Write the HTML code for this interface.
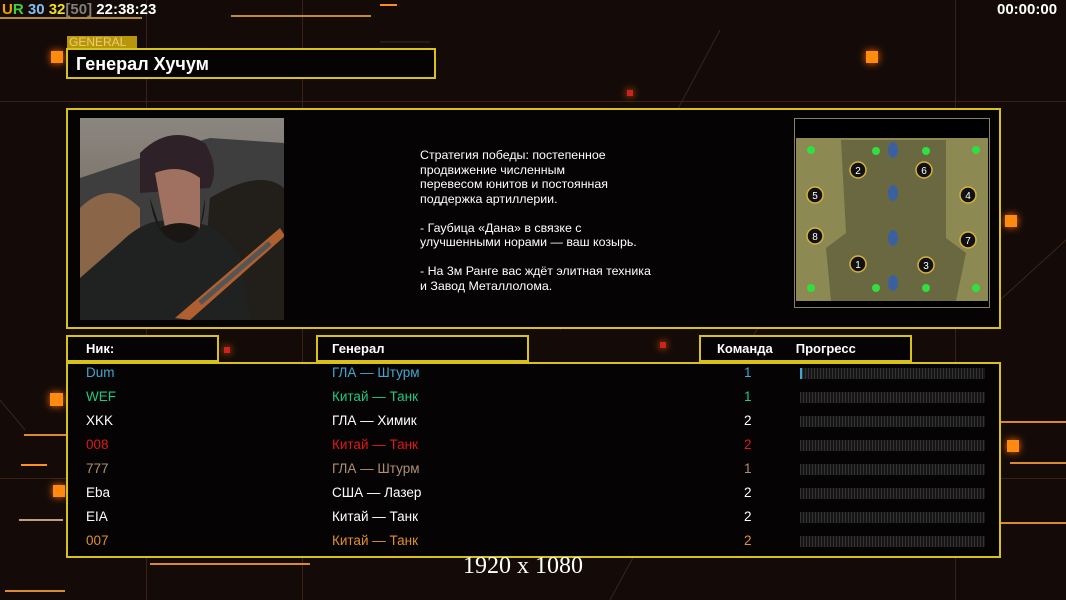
<!DOCTYPE html>
<html><head><meta charset="utf-8">
<style>
*{margin:0;padding:0;box-sizing:border-box}
body{width:1066px;height:600px;overflow:hidden;background:#140b08;font-family:"Liberation Sans",sans-serif;position:relative;color:#fff}
.a{position:absolute}
.box{position:absolute;border:2px solid #d8c21a;background:#050303}
.sq{position:absolute;background:#ff8a10;box-shadow:0 0 8px #ff6a00}
.ln{position:absolute;height:2px;background:#d98a30}
.gl{position:absolute;background:#3a2218}
.row{position:absolute;font-size:13.5px}
.bar{position:absolute;left:800px;width:185px;height:11px;background:repeating-linear-gradient(90deg,#333 0 1px,#161616 1px 3px)}
</style></head><body>
<div class="gl" style="left:146px;top:0;width:1px;height:600px"></div>
<div class="gl" style="left:302px;top:0;width:1px;height:600px"></div>
<div class="gl" style="left:955px;top:0;width:1px;height:600px"></div>
<div class="gl" style="left:0;top:101px;width:1066px;height:1px"></div>
<div class="gl" style="left:0;top:478px;width:1066px;height:1px"></div>
<svg class="a" style="left:0;top:0" width="1066" height="600">
<g stroke="#3a2418" stroke-width="1" fill="none">
<line x1="560" y1="330" x2="720" y2="30"/><line x1="610" y1="600" x2="800" y2="250"/>
<line x1="0" y1="400" x2="25" y2="430"/><line x1="380" y1="42" x2="430" y2="42"/>
<line x1="1000" y1="300" x2="1066" y2="240"/>
</g></svg>
<div class="ln" style="left:0;top:17px;width:142px;background:#b88a30"></div>
<div class="ln" style="left:231px;top:15px;width:140px;background:#c08a3a"></div>
<div class="ln" style="left:380px;top:4px;width:17px;background:#ff8a20"></div>
<div class="ln" style="left:24px;top:434px;width:42px"></div>
<div class="ln" style="left:21px;top:464px;width:26px;background:#ff9020"></div>
<div class="ln" style="left:19px;top:519px;width:44px;background:#c0a080"></div>
<div class="ln" style="left:5px;top:590px;width:60px"></div>
<div class="ln" style="left:1000px;top:421px;width:66px"></div>
<div class="ln" style="left:1010px;top:462px;width:56px"></div>
<div class="ln" style="left:1000px;top:522px;width:66px"></div>
<div class="ln" style="left:150px;top:563px;width:160px"></div>
<div class="sq" style="left:51px;top:51px;width:12px;height:12px"></div>
<div class="sq" style="left:50px;top:393px;width:13px;height:13px"></div>
<div class="sq" style="left:53px;top:485px;width:12px;height:12px"></div>
<div class="sq" style="left:866px;top:51px;width:12px;height:12px"></div>
<div class="sq" style="left:1005px;top:215px;width:12px;height:12px"></div>
<div class="sq" style="left:1007px;top:440px;width:12px;height:12px"></div>
<div class="sq" style="left:627px;top:90px;width:6px;height:6px;background:#d02020"></div>
<div class="sq" style="left:224px;top:347px;width:6px;height:6px;background:#d02020"></div>
<div class="sq" style="left:660px;top:342px;width:6px;height:6px;background:#d02020"></div>
<div class="a" style="left:2px;top:1px;font-size:15px;font-weight:bold;white-space:nowrap"><span style="color:#f0a000">U</span><span style="color:#40d040">R</span> <span style="color:#80c0f0">30</span> <span style="color:#f0e020">32</span><span style="color:#808080">[50]</span> 22:38:23</div>
<div class="a" style="left:997px;top:1px;font-size:15px;font-weight:bold">00:00:00</div>
<div class="a" style="left:67px;top:36px;width:70px;height:12px;background:#b8960c;color:#e8d070;font-size:12px;line-height:12px;padding-left:2px">GENERAL</div>
<div class="box" style="left:66px;top:48px;width:370px;height:31px;padding:4px 0 0 8px;font-size:18px;font-weight:bold">Генерал Хучум</div>
<div class="box" style="left:66px;top:108px;width:935px;height:221px"></div>
<svg class="a" style="left:80px;top:118px" width="204" height="202">
<defs><linearGradient id="sk" x1="0" y1="0" x2="0" y2="1"><stop offset="0" stop-color="#8a8680"/><stop offset="1" stop-color="#6a5a4a"/></linearGradient></defs>
<rect width="204" height="202" fill="url(#sk)"/>
<path d="M0 60 L60 40 L130 20 L204 25 L204 202 L0 202Z" fill="#3e3e3e"/>
<path d="M0 90 Q30 60 60 90 L60 202 L0 202Z" fill="#c08050" opacity=".6"/>
<path d="M130 80 Q180 50 204 70 L204 202 L120 202Z" fill="#221e1a"/>
<path d="M40 125 Q70 95 100 105 Q140 100 160 140 L170 202 L0 202 L0 160Z" fill="#202222"/>
<path d="M60 35 Q90 5 125 25 Q140 50 130 70 L60 75Z" fill="#2e2228"/>
<path d="M75 55 Q100 45 120 60 L120 110 Q100 130 85 110Z" fill="#a07060"/>
<path d="M70 80 Q75 120 100 125 Q125 120 125 80 L120 110 Q100 100 80 110Z" fill="#1a1614"/>
<path d="M95 200 L200 110 L205 118 L110 202Z" fill="#b06030"/>
<path d="M120 185 L190 125" stroke="#555" stroke-width="5"/>
</svg>
<div class="a" style="left:420px;top:148px;font-size:12.4px;line-height:14.5px;color:#fff">Стратегия победы: постепенное<br>продвижение численным<br>перевесом юнитов и постоянная<br>поддержка артиллерии.<br><br>- Гаубица «Дана» в связке с<br>улучшенными норами — ваш козырь.<br><br>- На 3м Ранге вас ждёт элитная техника<br>и Завод Металлолома.</div>
<div class="a" style="left:794px;top:118px;width:196px;height:190px;background:#000;border:1px solid #8a8060"></div>
<svg class="a" style="left:796px;top:138px" width="192" height="163">
<rect width="192" height="163" fill="#8c8a52"/>
<path d="M45 2 L150 2 L150 100 L170 115 L160 163 L35 163 L30 110 L50 95Z" fill="#6a6840"/>
<g fill="#3a60a0"><ellipse cx="97" cy="12" rx="5" ry="8"/><ellipse cx="97" cy="55" rx="5" ry="8"/><ellipse cx="97" cy="100" rx="5" ry="8"/><ellipse cx="97" cy="145" rx="5" ry="8"/></g>
<g fill="#30e040"><circle cx="15" cy="12" r="4"/><circle cx="80" cy="13" r="4"/><circle cx="130" cy="13" r="4"/><circle cx="180" cy="12" r="4"/><circle cx="15" cy="150" r="4"/><circle cx="80" cy="150" r="4"/><circle cx="130" cy="150" r="4"/><circle cx="180" cy="150" r="4"/></g>
<g fill="#111" stroke="#d8b040" stroke-width="1.5">
<circle cx="62" cy="32" r="8"/><circle cx="128" cy="32" r="8"/><circle cx="19" cy="57" r="8"/><circle cx="172" cy="57" r="8"/><circle cx="19" cy="98" r="8"/><circle cx="172" cy="102" r="8"/><circle cx="62" cy="126" r="8"/><circle cx="130" cy="127" r="8"/></g>
<g fill="#fff" font-size="10" font-family="Liberation Sans" text-anchor="middle">
<text x="62" y="36">2</text><text x="128" y="36">6</text><text x="19" y="61">5</text><text x="172" y="61">4</text><text x="19" y="102">8</text><text x="172" y="106">7</text><text x="62" y="130">1</text><text x="130" y="131">3</text></g>
</svg>
<div class="box" style="left:66px;top:335px;width:153px;height:27px;padding:4px 0 0 18px;font-size:13px;font-weight:bold">Ник:</div>
<div class="box" style="left:316px;top:335px;width:213px;height:27px;padding:4px 0 0 14px;font-size:13px;font-weight:bold">Генерал</div>
<div class="box" style="left:699px;top:335px;width:213px;height:27px;padding:4px 0 0 16px;font-size:13px;font-weight:bold">Команда<span style="margin-left:23px">Прогресс</span></div>
<div class="box" style="left:66px;top:362px;width:935px;height:196px"></div>
<div class="row" style="left:86px;top:365px;color:#40a8d0">Dum</div><div class="row" style="left:332px;top:365px;color:#40a8d0">ГЛА — Штурм</div><div class="row" style="left:744px;top:365px;color:#40a8d0">1</div>
<div class="row" style="left:86px;top:389px;color:#20c880">WEF</div><div class="row" style="left:332px;top:389px;color:#20c880">Китай — Танк</div><div class="row" style="left:744px;top:389px;color:#20c880">1</div>
<div class="row" style="left:86px;top:413px;color:#fff">XKK</div><div class="row" style="left:332px;top:413px;color:#fff">ГЛА — Химик</div><div class="row" style="left:744px;top:413px;color:#fff">2</div>
<div class="row" style="left:86px;top:437px;color:#e01818">008</div><div class="row" style="left:332px;top:437px;color:#e01818">Китай — Танк</div><div class="row" style="left:744px;top:437px;color:#e01818">2</div>
<div class="row" style="left:86px;top:461px;color:#b09070">777</div><div class="row" style="left:332px;top:461px;color:#b09070">ГЛА — Штурм</div><div class="row" style="left:744px;top:461px;color:#b09070">1</div>
<div class="row" style="left:86px;top:485px;color:#fff">Eba</div><div class="row" style="left:332px;top:485px;color:#fff">США — Лазер</div><div class="row" style="left:744px;top:485px;color:#fff">2</div>
<div class="row" style="left:86px;top:509px;color:#fff">EIA</div><div class="row" style="left:332px;top:509px;color:#fff">Китай — Танк</div><div class="row" style="left:744px;top:509px;color:#fff">2</div>
<div class="row" style="left:86px;top:533px;color:#e09030">007</div><div class="row" style="left:332px;top:533px;color:#e09030">Китай — Танк</div><div class="row" style="left:744px;top:533px;color:#e09030">2</div>
<div class="bar" style="top:368px;border-left:2px solid #40a8d0"></div>
<div class="bar" style="top:392px"></div><div class="bar" style="top:416px"></div><div class="bar" style="top:440px"></div>
<div class="bar" style="top:464px"></div><div class="bar" style="top:488px"></div><div class="bar" style="top:512px"></div><div class="bar" style="top:536px"></div>
<div class="a" style="left:463px;top:553px;font-family:'Liberation Serif',serif;font-size:24px;color:#fff">1920 x 1080</div>
</body></html>
